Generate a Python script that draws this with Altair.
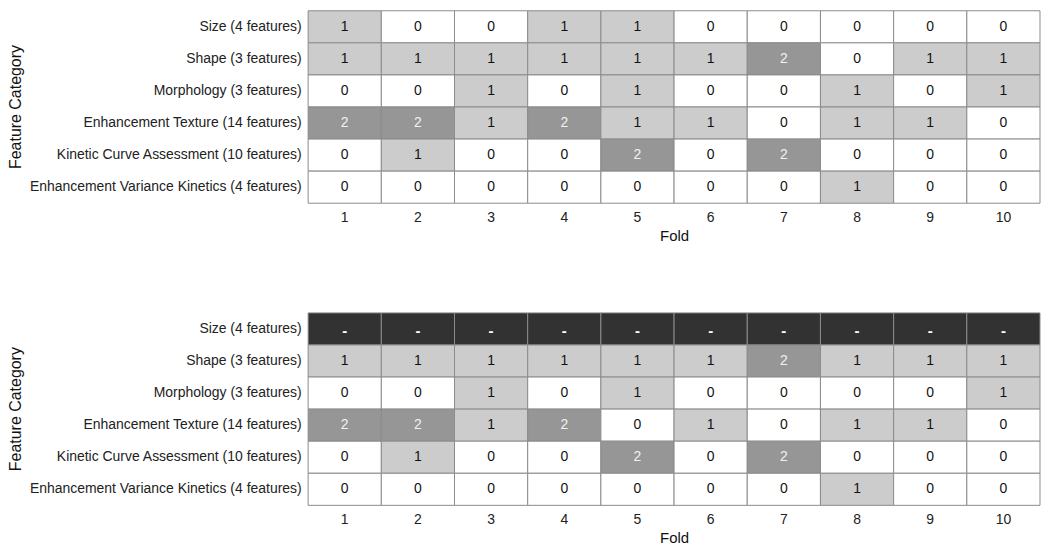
import altair as alt
import pandas as pd

categories = [
    "Size (4 features)",
    "Shape (3 features)",
    "Morphology (3 features)",
    "Enhancement Texture (14 features)",
    "Kinetic Curve Assessment (10 features)",
    "Enhancement Variance Kinetics (4 features)",
]
folds = [str(i) for i in range(1, 11)]

top_size = ["1", "0", "0", "1", "1", "0", "0", "0", "0", "0"]
top_shape = ["1", "1", "1", "1", "1", "1", "2", "0", "1", "1"]
top_morph = ["0", "0", "1", "0", "1", "0", "0", "1", "0", "1"]
top_texture = ["2", "2", "1", "2", "1", "1", "0", "1", "1", "0"]
top_kinetic = ["0", "1", "0", "0", "2", "0", "2", "0", "0", "0"]
top_evk = ["0", "0", "0", "0", "0", "0", "0", "1", "0", "0"]

bot_size = ["-", "-", "-", "-", "-", "-", "-", "-", "-", "-"]
bot_shape = ["1", "1", "1", "1", "1", "1", "2", "1", "1", "1"]
bot_morph = ["0", "0", "1", "0", "1", "0", "0", "0", "0", "1"]
bot_texture = ["2", "2", "1", "2", "0", "1", "0", "1", "1", "0"]
bot_kinetic = ["0", "1", "0", "0", "2", "0", "2", "0", "0", "0"]
bot_evk = ["0", "0", "0", "0", "0", "0", "0", "1", "0", "0"]


def build(rows):
    recs = []
    for cat, vals in zip(categories, rows):
        for f, v in zip(folds, vals):
            recs.append({"cat": cat, "fold": f, "val": v})
    return pd.DataFrame(recs)


top_df = build([top_size, top_shape, top_morph, top_texture, top_kinetic, top_evk])
bot_df = build([bot_size, bot_shape, bot_morph, bot_texture, bot_kinetic, bot_evk])

FONT = "Liberation Sans"

xenc = alt.X("fold:O", sort=folds, title="Fold",
             scale=alt.Scale(paddingInner=0, paddingOuter=0),
             axis=alt.Axis(labelAngle=0, titleFontSize=15, titlePadding=4))
yenc = alt.Y("cat:O", sort=categories, title="Feature Category",
             scale=alt.Scale(paddingInner=0, paddingOuter=0),
             axis=alt.Axis(titleFontSize=16, titleX=-293, titleY=96,
                           titleAngle=270, titleBaseline="middle", titleAlign="center"))


def panel(df):
    base = alt.Chart(df).encode(x=xenc, y=yenc)
    rect = base.mark_rect(stroke="#8c8c8c", strokeWidth=1).encode(
        color=alt.Color("val:N",
                        scale=alt.Scale(domain=["0", "1", "2", "-"],
                                        range=["#ffffff", "#cccccc", "#969696", "#323232"]),
                        legend=None),
    )
    text = base.mark_text(fontSize=14, font=FONT).encode(
        text="val:N",
        color=alt.Color("val:N",
                        scale=alt.Scale(domain=["0", "1", "2", "-"],
                                        range=["#111111", "#111111", "#f2f2f2", "#ffffff"]),
                        legend=None),
    ).transform_filter(alt.datum.val != "-")
    dash = base.mark_text(fontSize=15, font=FONT, fontWeight="bold", color="#ffffff", dy=2).encode(
        text="val:N",
    ).transform_filter(alt.datum.val == "-")
    return alt.layer(rect, text, dash).resolve_scale(color="independent").properties(
        width=734, height=193)


chart = alt.vconcat(panel(top_df), panel(bot_df), spacing=69).properties(
    padding={"top": 1, "left": 0, "right": 1, "bottom": 2}
).configure_view(stroke=None).configure_axis(
    domain=False, ticks=False, labelPadding=7, labelFontSize=14, labelFont=FONT,
    titleFont=FONT, titleFontWeight="normal", labelColor="#222", titleColor="#111",
    labelLimit=400,
)

chart.save("out.html", embed_options={"renderer": "svg", "actions": False})
